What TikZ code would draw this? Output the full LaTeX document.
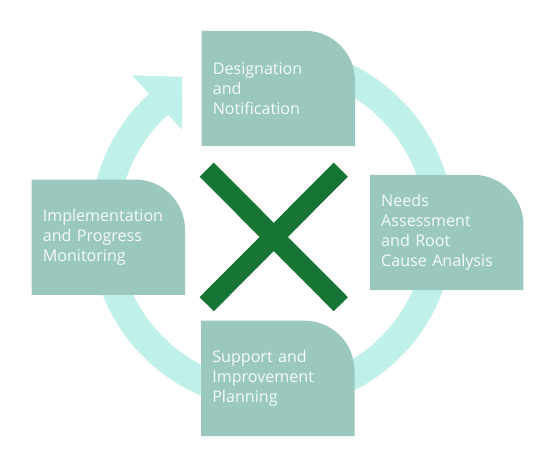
\documentclass[tikz,border=0pt]{standalone}
\usepackage{fontspec}
\newfontfamily\boxfont{Open Sans}
\usepackage{tikz}
\usetikzlibrary{positioning}
\definecolor{ringcyan}{HTML}{BFF0EA}
\definecolor{boxteal}{HTML}{9BC8BE}
\definecolor{crossgreen}{HTML}{167534}
\definecolor{boxtext}{HTML}{F4FAF8}
\pgfdeclarelayer{background}
\pgfsetlayers{background,main}
\tikzset{
	%Define style for the step boxes
	stepbox/.style={
	       rectangle,
	       text width=131pt,
	       inner xsep=11pt,
	       inner ysep=0pt,
	       minimum width=153pt,
	       minimum height=115pt,
	       align=left,
	       text=boxtext,
	       font=\boxfont\fontsize{16.1}{19.8}\selectfont},
	%Define style for the cycle band
	ringband/.style={
	       draw=ringcyan,
	       line width=28pt},
	%Define style for the cross
	xstroke/.style={
	       draw=crossgreen,
	       line width=20pt}
}

\begin{document}
\begin{tikzpicture}[x=1pt, y=1pt]
		\useasboundingbox (0,0) rectangle (546,-468);
		\coordinate (cx) at (273.8,-237.2);
		\coordinate (rc) at (272,-228); % centre of the band
		\node[stepbox, above=91pt of cx, xshift=4.5pt](desig){Designation\\and\\Notification};
		\node[stepbox, right=96.2pt of cx, yshift=4.7pt](needs){Needs\\Assessment\\and Root\\Cause Analysis};
		\node[stepbox, below=83.5pt of cx, xshift=4pt](support){Support and\\Improvement\\Planning};
		\node[stepbox, left=88.8pt of cx](impl){Implementation\\and Progress\\Monitoring};
		% band, arrow head and box shapes
		\begin{pgfonlayer}{background}
		\draw[ringband] ([shift={(100:168)}]rc) arc[start angle=100, end angle=-228.5, radius=168];
		\fill[ringcyan] ([shift={(132.5:133)}]rc) -- ([shift={(132.5:207)}]rc) -- ([shift={(120.8:176)}]rc) -- cycle;
		\foreach \n in {desig,needs,support,impl}
			\fill[boxteal] (\n.south west) -- (\n.north west) -- ([xshift=-50pt]\n.north east)
				arc[start angle=90, end angle=0, radius=50] -- (\n.south east) -- cycle;
		\end{pgfonlayer}
		% cross
		\coordinate (xa) at (206.7,-169.7);
		\coordinate (xb) at (340.8,-304.2);
		\coordinate (xc) at (340.8,-169.7);
		\coordinate (xd) at (206.7,-304.2);
		\draw[xstroke] (xa) -- (xb);
		\draw[xstroke] (xc) -- (xd);
	\end{tikzpicture}
\end{document}
